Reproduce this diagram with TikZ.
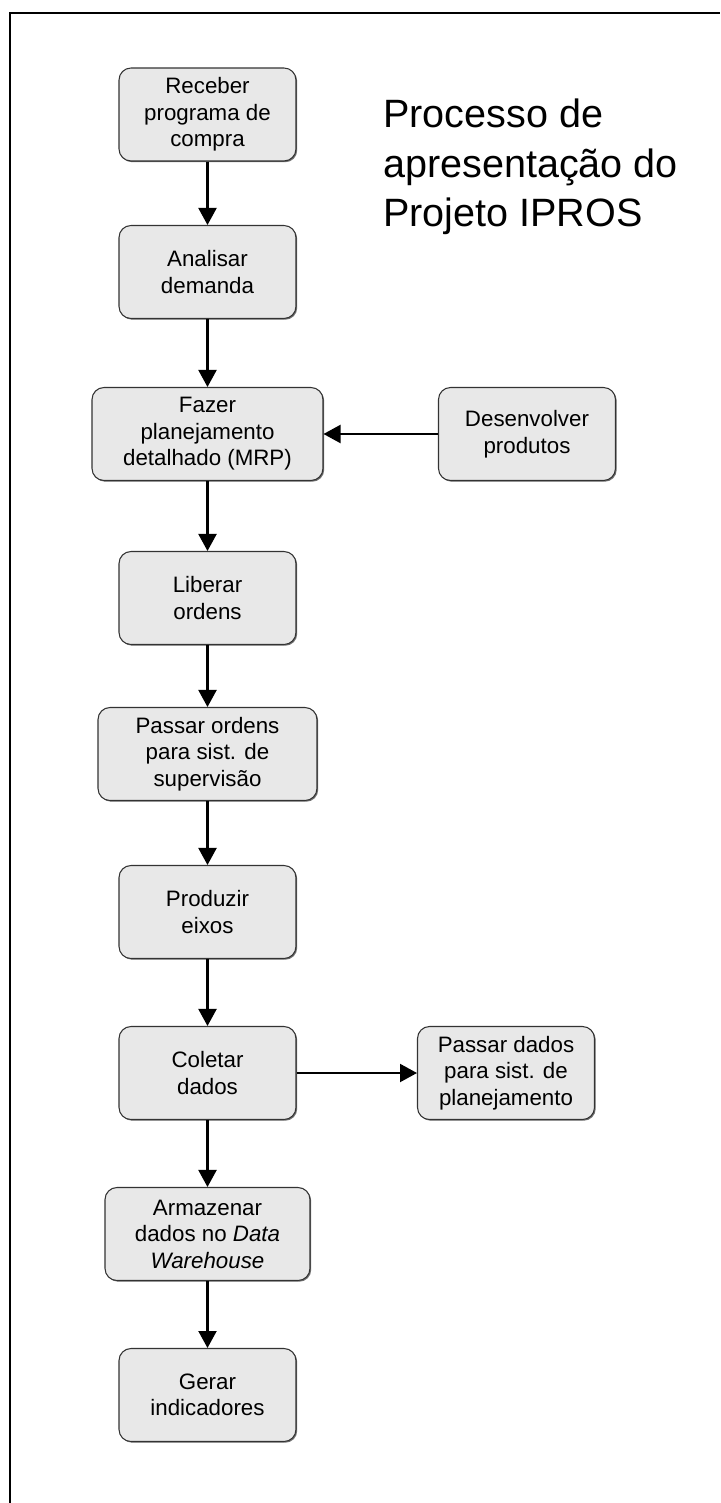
\documentclass[tikz,border=0pt]{standalone}
\usepackage{fontspec}
\setmainfont{Liberation Sans}
\usetikzlibrary{arrows.meta,shadows}
\definecolor{boxgray}{RGB}{232,232,232}

\begin{document}
\begin{tikzpicture}[x=0.02cm,y=-0.02cm,
  passo/.style={draw=black!80,fill=boxgray,rounded corners=0.24cm,line width=0.6pt,
    drop shadow={shadow xshift=0.7pt,shadow yshift=-0.7pt,fill=black!70,opacity=0.8},
    align=center,minimum width=3.54cm,minimum height=1.86cm,inner sep=0pt,
    font=\fontsize{12.7}{15.1}\selectfont},
  seta/.style={-{Triangle[length=0.34cm,width=0.36cm]},line width=1.2pt}]

\useasboundingbox (0,0) rectangle (720,1503);

% ============ moldura ============
\draw[line width=1.3pt] (10,1503) -- (10,13) -- (720,13);

% ============ titulo ============
\node[anchor=north west,inner sep=0pt,align=left,font=\fontsize{22.5}{28}\selectfont] (titulo) at (383,99)
  {Processo de\\apresentação do\\Projeto IPROS};

% ============ fluxo principal ============
\node[passo] (receber) at (207.5,114.5) {Receber\\programa de\\compra};
\node[passo] (analisar) at (207.5,272) {Analisar\\demanda};
\node[passo,minimum width=4.62cm] (planejar) at (207.5,434) {Fazer\\planejamento\\detalhado (MRP)};
\node[passo] (liberar) at (207.5,598) {Liberar\\ordens};
\node[passo,minimum width=4.38cm] (supervisao) at (207.5,754) {Passar ordens\\para sist. de\\supervisão};
\node[passo] (produzir) at (207.5,912) {Produzir\\eixos};
\node[passo] (coletar) at (207.5,1073) {Coletar\\dados};
\node[passo,minimum width=4.1cm] (armazenar) at (207.5,1234) {Armazenar\\dados no \textit{Data}\\\textit{Warehouse}};
\node[passo] (gerar) at (207.5,1395) {Gerar\\indicadores};

% ============ ramos laterais ============
\node[passo] (desenvolver) at (527,434) {Desenvolver\\produtos};
\node[passo] (planejamento) at (506,1073) {Passar dados\\para sist. de\\planejamento};

% ============ setas ============
\foreach \a/\b in {receber/analisar,analisar/planejar,planejar/liberar,liberar/supervisao,
  supervisao/produzir,produzir/coletar,coletar/armazenar,armazenar/gerar}{
  \draw[seta] (\a) -- (\b);
}
\draw[seta] (desenvolver) -- (planejar);
\draw[seta] (coletar) -- (planejamento);

\end{tikzpicture}
\end{document}
